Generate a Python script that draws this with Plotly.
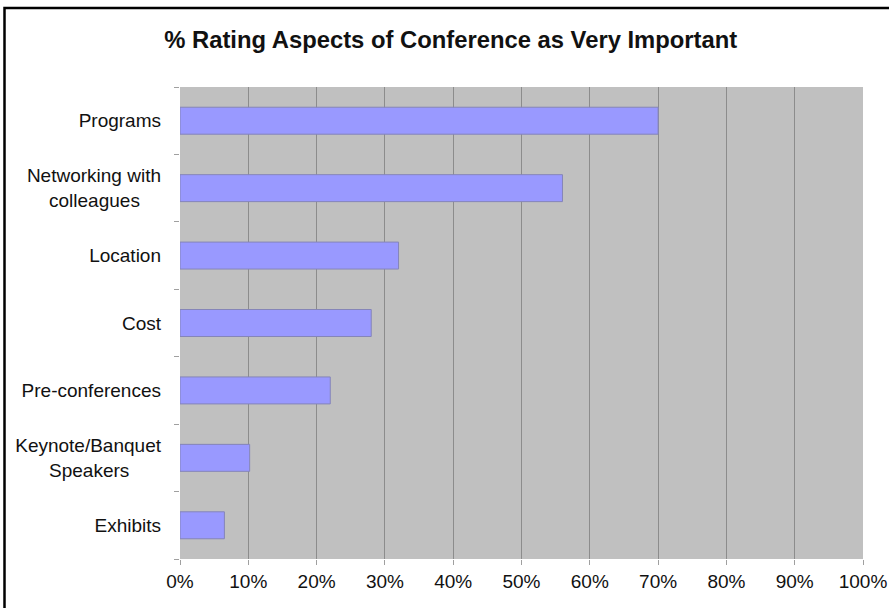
import plotly.graph_objects as go

categories = ["Programs", "Networking with colleagues", "Location", "Cost",
              "Pre-conferences", "Keynote/Banquet Speakers", "Exhibits"]
values = [70, 56, 32, 28, 22, 10.2, 6.5]
tick_labels = ["Programs",
               "Networking with<br>colleagues\u00a0\u00a0\u00a0\u00a0",
               "Location", "Cost", "Pre-conferences",
               "Keynote/Banquet<br>Speakers\u00a0\u00a0\u00a0\u00a0\u00a0\u00a0",
               "Exhibits"]
x_ticks = list(range(0, 101, 10))
x_tick_text = [f"{v}%" for v in x_ticks]
title_text = "% Rating Aspects of Conference as Very Important"

FONT = "Liberation Sans, Arial, sans-serif"

fig = go.Figure(go.Bar(
    x=values, y=categories, orientation="h",
    marker=dict(color="#9999FF", line=dict(color="#8585B8", width=1)),
))

L, R, T, B = 180, 26, 87, 49
W, H = 889, 608
pw, ph = W - L - R, H - T - B

fig.update_layout(
    width=W, height=H,
    margin=dict(l=L, r=R, t=T, b=B, pad=0, autoexpand=False),
    paper_bgcolor="white", plot_bgcolor="#C0C0C0",
    bargap=0.6, showlegend=False,
    font=dict(family=FONT, size=19, color="#111111"),
    title=dict(text="<b>" + title_text + "</b>", x=0.507, xref="container",
               xanchor="center", y=1 - 40 / H, yref="container", yanchor="middle",
               font=dict(family=FONT, size=23.8, color="#111111")),
    xaxis=dict(range=[0, 100], tickmode="array", tickvals=x_ticks, ticktext=x_tick_text,
               showgrid=True, gridcolor="#8C8C8C", gridwidth=1,
               zeroline=False, showline=False, automargin=False,
               ticks="outside", ticklen=5, tickcolor="#A0A0A0", tickwidth=1,
               tickfont=dict(size=19), fixedrange=True),
    yaxis=dict(type="category", autorange="reversed",
               tickmode="array", tickvals=categories, ticktext=tick_labels,
               tickson="boundaries", showgrid=False, zeroline=False, showline=False,
               automargin=False,
               ticks="outside", ticklen=5, tickcolor="#A0A0A0", tickwidth=1,
               ticklabelstandoff=18, tickfont=dict(size=19), fixedrange=True),
    shapes=[dict(type="rect", xref="paper", yref="paper",
                 x0=(4.5 - L) / pw, x1=(920 - L) / pw,
                 y0=-(640 - (H - B)) / ph, y1=1 + (T - 8) / ph,
                 line=dict(color="black", width=2.5), fillcolor="rgba(0,0,0,0)",
                 layer="above")],
)

fig.write_html("out.html", config={"displayModeBar": False},
               post_script="document.body.style.margin='0';")
